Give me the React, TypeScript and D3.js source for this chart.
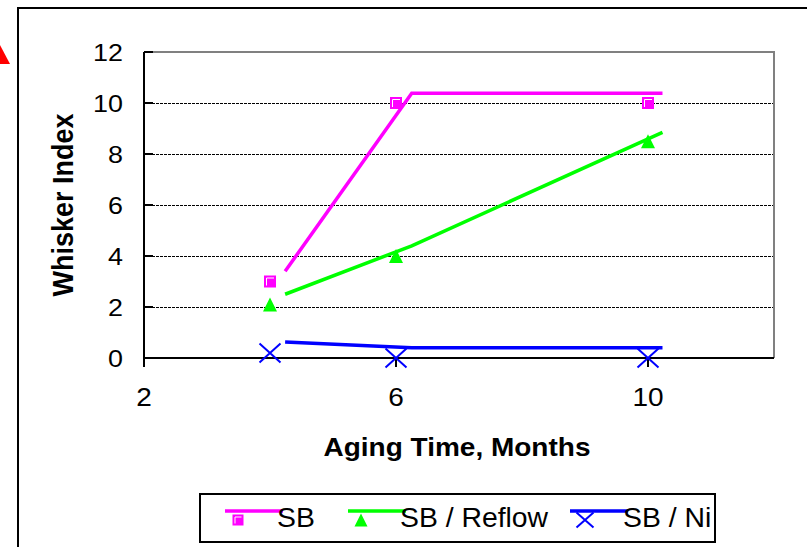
import React, { useRef, useEffect } from 'react';
import * as d3 from 'd3';

// measured points (markers)
const months = [4, 6, 10];
const sbValues = [3, 10, 10];
const reflowValues = [2.1, 4, 8.5];
const niValues = [0.2, 0, 0];

// fitted lines, drawn a little off the markers as in the original
const lineMonths = [4.24, 6.25, 10.23];
const sbLine = [3.4, 10.38, 10.38];
const reflowLine = [2.5, 4.4, 8.85];
const niLine = [0.63, 0.4, 0.4];

const xTicks = [2, 6, 10];
const yTicks = [0, 2, 4, 6, 8, 10, 12];
const seriesNames = ['SB', 'SB / Reflow', 'SB / Ni'];

const PINK = '#ff00ff';
const GREEN = '#00ff00';
const BLUE = '#0000ff';
const FONT = '"Liberation Sans", Arial, sans-serif';

export default function App() {
    const ref = useRef<SVGSVGElement>(null);

    useEffect(() => {
        const svg = d3.select(ref.current);
        svg.selectAll('*').remove();

        const width = 807;
        const height = 547;
        const left = 144, right = 774, top = 52, bottom = 358;
        const sx = 1.12; // text in the picture is a bit wider than tall

        const x = d3.scaleLinear().domain([2, 12]).range([left, right]);
        const y = d3.scaleLinear().domain([0, 12]).range([bottom, top]);

        svg.attr('width', width).attr('height', height);

        svg.append('rect').attr('width', width).attr('height', height).attr('fill', 'white');

        // red arrow tip sticking in from the left
        svg.append('polygon')
            .attr('points', '0,45 10,64 0,64')
            .attr('fill', '#ff0000');

        // outer frame
        svg.append('rect')
            .attr('x', 18).attr('y', 8)
            .attr('width', 900).attr('height', 600)
            .attr('fill', 'none').attr('stroke', 'black').attr('stroke-width', 2);

        // gridlines
        svg.append('g')
            .selectAll('line')
            .data(yTicks.filter(d => d > 0 && d < 12))
            .join('line')
            .attr('x1', left).attr('x2', right)
            .attr('y1', d => y(d) + 0.5).attr('y2', d => y(d) + 0.5)
            .attr('stroke', 'black').attr('stroke-width', 1)
            .attr('shape-rendering', 'crispEdges')
            .attr('stroke-dasharray', '3,1');

        // gray top / right border
        svg.append('path')
            .attr('d', `M${left},${y(12)}H${x(12)}V${y(0)}`)
            .attr('fill', 'none').attr('stroke', '#808080').attr('stroke-width', 2);

        // y axis with inner ticks
        svg.append('line')
            .attr('x1', left).attr('x2', left)
            .attr('y1', y(12)).attr('y2', y(0) + 9)
            .attr('stroke', 'black').attr('stroke-width', 2);
        svg.append('g')
            .selectAll('line')
            .data(yTicks)
            .join('line')
            .attr('x1', left).attr('x2', left + 9)
            .attr('y1', d => y(d)).attr('y2', d => y(d))
            .attr('stroke', 'black').attr('stroke-width', 2);
        svg.append('g')
            .selectAll('text')
            .data(yTicks)
            .join('text')
            .attr('transform', d => `translate(123,${y(d) + 8.5}) scale(${sx},1)`)
            .attr('text-anchor', 'end')
            .attr('font-family', FONT).attr('font-size', 24)
            .text(d => d);

        // x axis with outer ticks
        svg.append('line')
            .attr('x1', left).attr('x2', x(12))
            .attr('y1', y(0)).attr('y2', y(0))
            .attr('stroke', 'black').attr('stroke-width', 2);
        svg.append('g')
            .selectAll('line')
            .data(xTicks)
            .join('line')
            .attr('x1', d => x(d)).attr('x2', d => x(d))
            .attr('y1', y(0)).attr('y2', y(0) + 9)
            .attr('stroke', 'black').attr('stroke-width', 2);
        svg.append('g')
            .selectAll('text')
            .data(xTicks)
            .join('text')
            .attr('transform', d => `translate(${x(d)},406) scale(${sx},1)`)
            .attr('text-anchor', 'middle')
            .attr('font-family', FONT).attr('font-size', 25)
            .text(d => d);

        // axis titles
        svg.append('text')
            .attr('transform', `translate(${(left + right) / 2 - 2},456) scale(${sx},1)`)
            .attr('text-anchor', 'middle')
            .attr('font-family', FONT).attr('font-size', 25).attr('font-weight', 'bold')
            .text('Aging Time, Months');
        svg.append('text')
            .attr('transform', `translate(73,${(top + bottom) / 2}) scale(${sx},1) rotate(-90)`)
            .attr('text-anchor', 'middle')
            .attr('font-family', FONT).attr('font-size', 27).attr('font-weight', 'bold')
            .text('Whisker Index');

        // lines
        const line = d3.line<number>()
            .x((d, i) => x(lineMonths[i]))
            .y(d => y(d));
        const lines = [
            { vals: sbLine, color: PINK },
            { vals: reflowLine, color: GREEN },
            { vals: niLine, color: BLUE },
        ];
        lines.forEach(l => {
            svg.append('path')
                .attr('d', line(l.vals))
                .attr('fill', 'none')
                .attr('stroke', l.color)
                .attr('stroke-width', 3.5);
        });

        // marker drawers
        const square = (g: any, cx: number, cy: number, s: number) => {
            g.append('rect')
                .attr('x', cx - s / 2).attr('y', cy - s / 2)
                .attr('width', s).attr('height', s)
                .attr('fill', PINK);
            g.append('path')
                .attr('d', `M${cx - s / 2 + 2.5},${cy + s / 2 - 2}V${cy - s / 2 + 2.5}H${cx + s / 2 - 2}`)
                .attr('fill', 'none').attr('stroke', 'white').attr('stroke-width', 1);
        };
        const triangle = (g: any, cx: number, cy: number, s: number) => {
            g.append('path')
                .attr('d', `M${cx},${cy - s / 2}L${cx + s / 2},${cy + s / 2}L${cx - s / 2},${cy + s / 2}Z`)
                .attr('fill', GREEN);
        };
        const cross = (g: any, cx: number, cy: number, w: number, h: number) => {
            g.append('path')
                .attr('d', `M${cx - w / 2},${cy - h / 2}L${cx + w / 2},${cy + h / 2}M${cx + w / 2},${cy - h / 2}L${cx - w / 2},${cy + h / 2}`)
                .attr('stroke', BLUE).attr('stroke-width', 2).attr('fill', 'none');
        };

        const markers = svg.append('g');
        months.forEach((m, i) => {
            square(markers, x(m), y(sbValues[i]), 12);
            triangle(markers, x(m), y(reflowValues[i]), 14);
            cross(markers, x(m), y(niValues[i]), 21, 19);
        });

        // legend
        const legend = svg.append('g');
        legend.append('rect')
            .attr('x', 200).attr('y', 494)
            .attr('width', 515).attr('height', 48)
            .attr('fill', 'white').attr('stroke', 'black').attr('stroke-width', 2);
        const items = [
            { lx: 225, color: PINK, mx: 238, tx: 277 },
            { lx: 348, color: GREEN, mx: 361, tx: 400 },
            { lx: 570, color: BLUE, mx: 585, tx: 623 },
        ];
        items.forEach((it, i) => {
            legend.append('line')
                .attr('x1', it.lx).attr('x2', it.lx + 58)
                .attr('y1', 511).attr('y2', 511)
                .attr('stroke', it.color).attr('stroke-width', 3.5);
            if (i === 0) square(legend, it.mx, 520, 11);
            if (i === 1) triangle(legend, it.mx, 520, 13);
            if (i === 2) cross(legend, it.mx, 520, 17, 15);
            legend.append('text')
                .attr('transform', `translate(${it.tx},527) scale(1.05,1)`)
                .attr('font-family', FONT).attr('font-size', 27)
                .text(seriesNames[i]);
        });
    }, []);

    return <svg ref={ref} style={{ position: 'absolute', left: 0, top: 0, display: 'block' }} />;
}
